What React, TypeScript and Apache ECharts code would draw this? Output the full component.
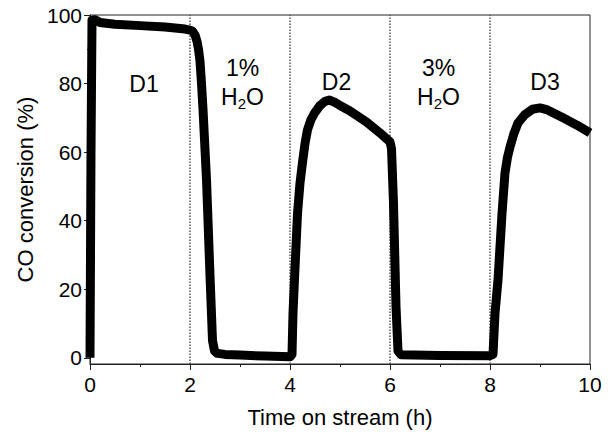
import React, { useEffect, useRef } from "react";
import * as echarts from "echarts";

// Time on stream (h)
const timeH = [
  0, 0.02, 0.04, 0.1, 0.2, 0.5, 1.0, 1.5, 1.9, 2.0, 2.05, 2.1, 2.14, 2.17, 2.2, 2.23, 2.26, 2.33, 2.4, 2.45, 2.49, 2.55, 2.7, 3.0, 3.5, 4.0,
  4.04, 4.06, 4.09, 4.15, 4.2, 4.25, 4.3, 4.35, 4.42, 4.49, 4.6, 4.7, 4.79, 4.9, 5.0, 5.2, 5.53, 5.8, 6.0,
  6.03, 6.07, 6.12, 6.16, 6.22, 7.0, 8.0,
  8.06, 8.1, 8.16, 8.24, 8.3, 8.35, 8.4, 8.48, 8.56, 8.7, 8.85, 9.0, 9.15, 9.46, 9.75, 10.0,
];
// CO conversion (%)
const coConv = [
  0, 60, 98.5, 98.6, 97.8, 97.3, 96.9, 96.5, 95.9, 95.6, 95.3, 94.2, 92.3, 90, 86.5, 80, 72.5, 52, 24, 5, 2, 1.3, 1.0, 0.8, 0.5, 0.3,
  1, 13, 23, 42, 51, 57, 62.5, 66.5, 69.5, 71.4, 73.6, 74.8, 75.2, 74.5, 73.6, 72.0, 68.8, 65.6, 63,
  61, 45, 15, 2, 0.9, 0.7, 0.6,
  1, 13, 22.7, 42, 54, 58.5, 61.5, 65.5, 68.5, 71, 72.5, 72.9, 72.3, 70, 67.8, 65.6,
];

// Switch times (dotted separators)
const switchTimes = [2, 4, 6, 8];

// Annotations
const annotTime = [1.08, 3.05, 4.93, 6.97, 9.1];
const annotConv = [80, 80.3, 80.5, 80.3, 80.5];
const annotText = [
  "{n|D1}",
  "{n|1%}\n{n|H}{s|2}{n|O}",
  "{n|D2}",
  "{n|3%}\n{n|H}{s|2}{n|O}",
  "{n|D3}",
];

const xTicks = [0, 2, 4, 6, 8, 10];
const yMajor = [0, 20, 40, 60, 80, 100];
const yMinor = [10, 30, 50, 70, 90];

const FONT = "Liberation Sans, Arial, sans-serif";

export default function App() {
  const ref = useRef<HTMLDivElement>(null);
  useEffect(() => {
    if (!ref.current) return;
    const chart = echarts.init(ref.current, null, { renderer: "svg" });
    const yBase = {
      type: "value" as const,
      min: -1.8,
      max: 100,
      position: "left" as const,
      splitLine: { show: false },
    };
    chart.setOption({
      animation: false,
      backgroundColor: "#fff",
      grid: {
        left: 90,
        right: 25,
        top: 15,
        bottom: 70,
        show: true,
        borderColor: "#222",
        borderWidth: 1,
      },
      xAxis: {
        type: "value",
        min: 0,
        max: 10,
        interval: 2,
        name: "Time on stream (h)",
        nameLocation: "middle",
        nameGap: 42,
        nameTextStyle: { fontFamily: FONT, fontSize: 22, color: "#000" },
        axisLine: { onZero: false, lineStyle: { color: "#222", width: 1 } },
        axisTick: { show: true, inside: false, length: 6, lineStyle: { color: "#222" } },
        minorTick: { show: true, splitNumber: 2, length: 3, lineStyle: { color: "#222" } },
        axisLabel: {
          fontFamily: FONT,
          fontSize: 21,
          color: "#000",
          margin: 10,
          customValues: xTicks,
        },
        splitLine: { show: false },
      },
      yAxis: [
        {
          ...yBase,
          name: "CO conversion (%)",
          nameLocation: "middle",
          nameGap: 52,
          nameTextStyle: { fontFamily: FONT, fontSize: 22, color: "#000" },
          axisLine: { show: true, onZero: false, lineStyle: { color: "#222", width: 1 } },
          axisTick: { show: true, length: 6, customValues: yMajor, lineStyle: { color: "#222" } },
          axisLabel: {
            fontFamily: FONT,
            fontSize: 21,
            color: "#000",
            margin: 8,
            customValues: yMajor,
          },
        },
        {
          ...yBase,
          axisLine: { show: false, onZero: false },
          axisTick: { show: true, length: 3, customValues: yMinor, lineStyle: { color: "#222" } },
          axisLabel: { show: false },
        },
      ],
      series: [
        {
          type: "line",
          data: timeH.map((t, i) => [t, coConv[i]]),
          showSymbol: false,
          symbol: "none",
          lineStyle: { color: "#000", width: 9, join: "round", cap: "butt" },
          z: 3,
          markLine: {
            silent: true,
            symbol: ["none", "none"],
            label: { show: false },
            lineStyle: { color: "#555", type: "dotted", width: 1.5 },
            data: switchTimes.map((t) => ({ xAxis: t })),
            z: 1,
          },
        },
        {
          type: "scatter",
          data: annotTime.map((t, i) => ({ value: [t, annotConv[i]], label: { formatter: annotText[i] } })),
          symbolSize: 1,
          itemStyle: { color: "#fff" },
          silent: true,
          label: {
            show: true,
            position: "inside",
            align: "center",
            verticalAlign: "middle",
            color: "#000",
            opacity: 1,
            textBorderWidth: 0,
            rich: {
              n: { fontFamily: FONT, fontSize: 23, color: "#000", lineHeight: 29, opacity: 1 },
              s: { fontFamily: FONT, fontSize: 15, color: "#000", lineHeight: 29, padding: [12, 0, 0, 0], opacity: 1 },
            },
          },
          z: 4,
        },
      ],
    });
    return () => chart.dispose();
  }, []);
  return (
    <div
      ref={ref}
      style={{ position: "fixed", left: 0, top: 0, width: 615, height: 434 }}
    />
  );
}
